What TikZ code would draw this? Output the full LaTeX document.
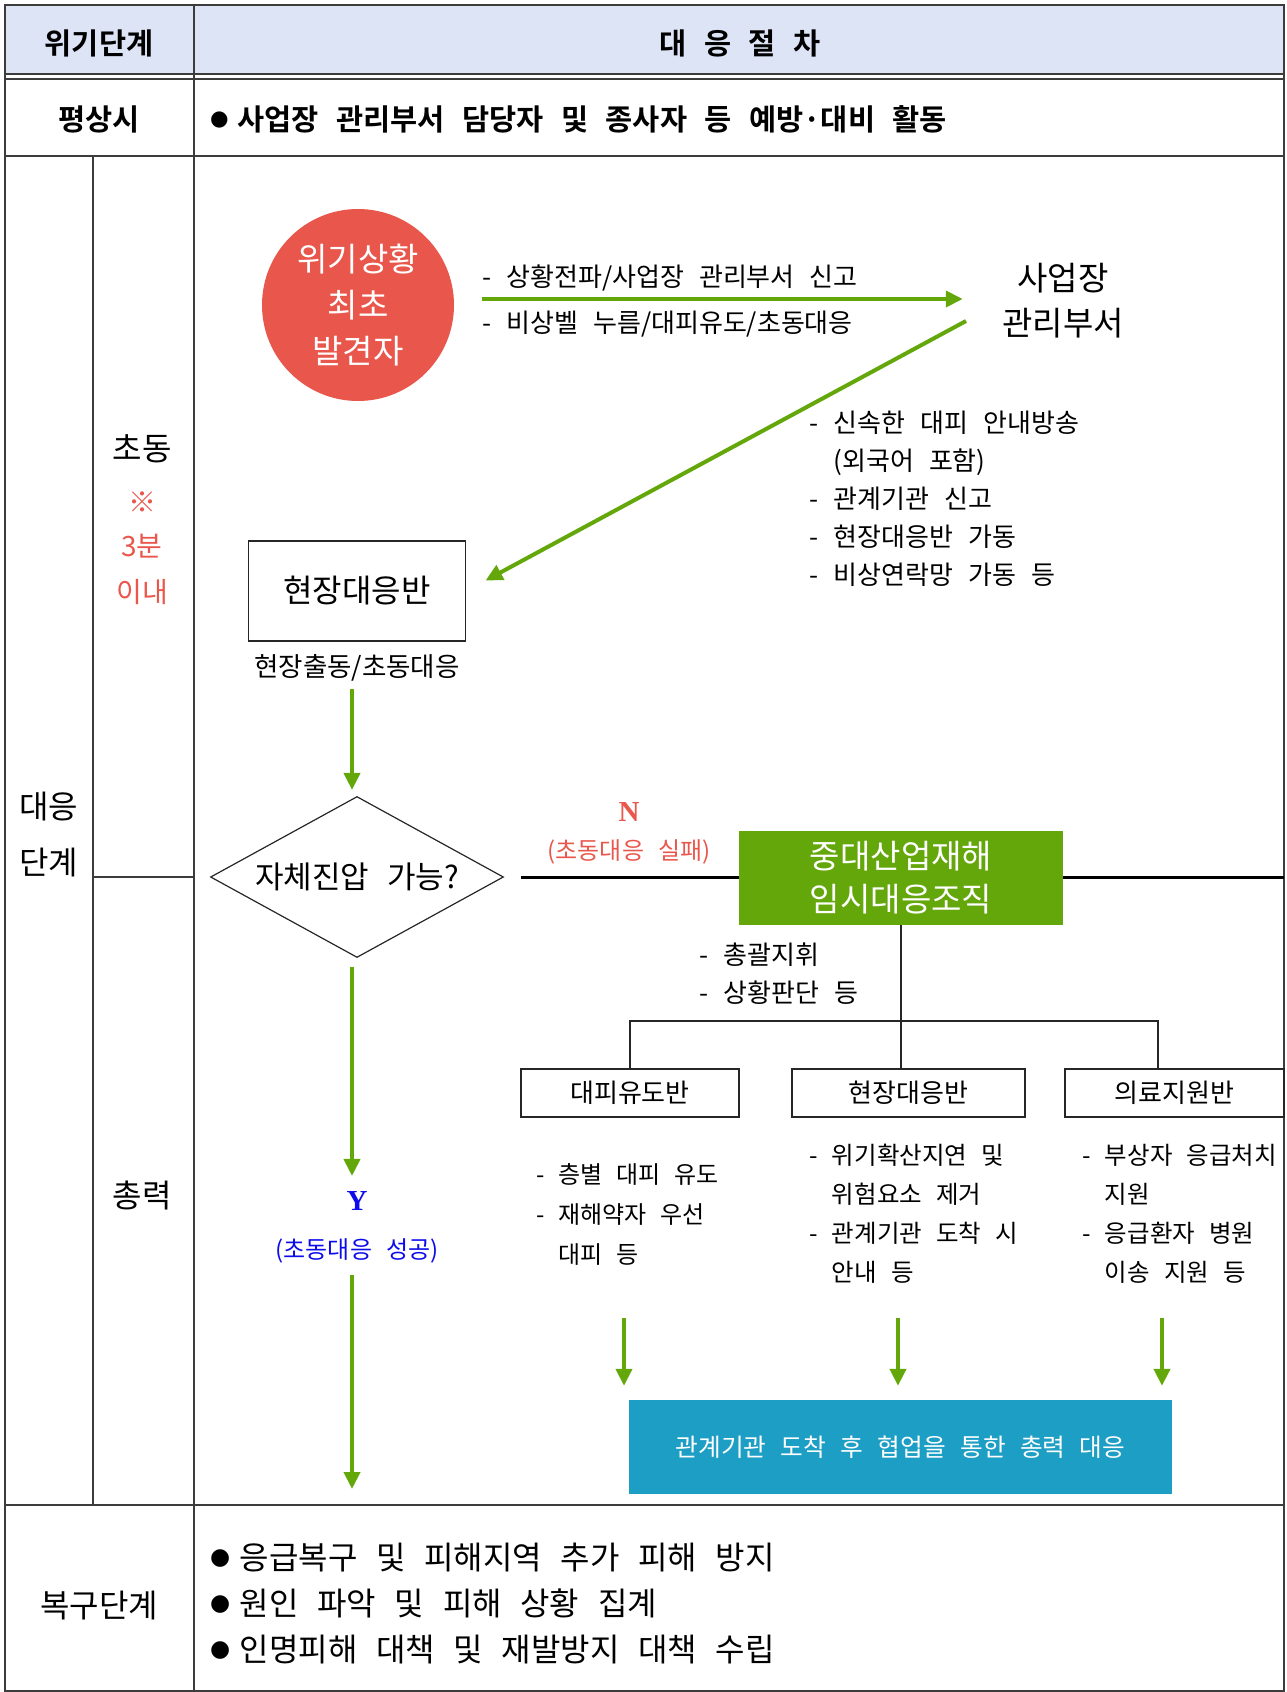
\documentclass[tikz,border=0pt]{standalone}
\usepackage{fontspec}
\setmainfont{Noto Sans CJK KR}[BoldFont={Noto Sans CJK KR Bold},WordSpace=2.6]
\newfontfamily\dotfont{DejaVu Sans}
\newfontfamily\markfont{Liberation Serif}
\usetikzlibrary{shapes.geometric,arrows.meta}

\definecolor{hdrfill}{RGB}{221,228,246}
\definecolor{tabgray}{RGB}{60,60,60}
\definecolor{flowgreen}{RGB}{99,167,10}
\definecolor{alertred}{RGB}{233,87,76}
\definecolor{teamblue}{RGB}{29,158,196}
\definecolor{yesblue}{RGB}{12,12,235}

\newcommand\bul{\raisebox{0.15em}{\dotfont\scalebox{0.72}{●}}\hspace{0.3em}}

\tikzset{
  tabline/.style={draw=tabgray, line width=1.5pt},
  gline/.style={draw=flowgreen, line width=4pt, -{Triangle[length=17pt,width=16pt]}},
  orgline/.style={draw=black!85, line width=1.3pt},
  hdr/.style={font=\bfseries\fontsize{29.5}{34}\selectfont, inner sep=0pt},
  side/.style={font=\fontsize{32}{38}\selectfont, inner sep=0pt},
  redside/.style={font=\fontsize{28}{32}\selectfont, text=alertred, inner sep=0pt},
  note/.style={font=\fontsize{26}{38}\selectfont, inner sep=0pt, align=left},
  smallbox/.style={draw=black!85, line width=1.3pt, font=\fontsize{26}{30}\selectfont, minimum height=48pt},
}

\begin{document}
\begin{tikzpicture}[x=1pt,y=-1pt]
\useasboundingbox (0,0) rectangle (1286,1692);

% table frame
\fill[hdrfill] (5,5) rectangle (1284,74);
\draw[tabline] (194,5) -- (194,1692);
\draw[tabline] (5,74) -- (1284,74);
\draw[tabline] (5,79) -- (1284,79);
\draw[tabline] (5,156) -- (1284,156);
\draw[tabline] (93,156) -- (93,1505);
\draw[tabline] (93,877) -- (194,877);
\draw[tabline] (5,1505) -- (1284,1505);
\draw[draw=tabgray, line width=2pt] (5,5) rectangle (1284,1691);

% header and first row
\node[hdr] (stagehdr) at (99,43) {위기단계};
\node[hdr] (prochdr) at (740,43) {대 응 절 차};
\node[hdr] (normal) at (99,119) {평상시};
\node[hdr, anchor=west] (normaltxt) at (210,119) {\bul 사업장 관리부서 담당자 및 종사자 등 예방·대비 활동};

% left labels
\node[side] (early) at (142,449) {초동};
\node[redside] (earlymark) at (142,502) {※};
\node[redside] (earlymin) at (142,546) {3분};
\node[redside] (earlyin) at (142,592) {이내};
\node[side] (resp1) at (49,807) {대응};
\node[side] (resp2) at (49,863) {단계};
\node[side] (full) at (142,1195) {총력};
\node[side] (recover) at (99,1606) {복구단계};

% first response
\node[circle, fill=alertred, minimum size=192pt, text=white, align=center,
      font=\fontsize{33}{46}\selectfont] (finder) at (358,305) {위기상황\\최초\\발견자};
\node[align=center, font=\fontsize{33}{45}\selectfont] (dept) at (1063,301) {사업장\\관리부서};
\node[note, anchor=west] (report1) at (482,278) {- 상황전파/사업장 관리부서 신고};
\node[note, anchor=west] (report2) at (482,324) {- 비상벨 누름/대피유도/초동대응};
\draw[gline, shorten <=28pt, shorten >=36pt] (finder.east |- 0,299) -- (dept.west |- 0,299);

\node[note, anchor=north west] (deptlist) at (809,411)
  {- 신속한 대피 안내방송\\\hphantom{- }(외국어 포함)\\- 관계기관 신고\\- 현장대응반 가동\\- 비상연락망 가동 등};

\node[draw=black!85, line width=1.3pt, minimum width=217pt, minimum height=100pt,
      font=\fontsize{32}{38}\selectfont] (fieldteam) at (357,591) {현장대응반};
\coordinate (deptout) at (966,321);
\draw[gline, shorten >=22pt] (deptout) -- (fieldteam.east);
\node[font=\fontsize{26.5}{30}\selectfont] (fieldnote) at (357,668) {현장출동/초동대응};

\node[diamond, draw=black!85, line width=1.2pt, aspect=1.82, inner sep=0pt,
      minimum width=293pt, minimum height=161pt, font=\fontsize{31}{36}\selectfont] (decide) at (357,877) {자체진압 가능?};
\draw[gline, shorten <=4pt, shorten >=6pt] (fieldnote.south -| 352,0) -- (decide.north -| 352,0);

% failure branch
\coordinate (rightedge) at (1284,877);
\draw[black, line width=3pt, shorten <=17pt] (decide.east) -- (rightedge);
\node[font=\markfont\bfseries\fontsize{29}{30}\selectfont, text=alertred] (nmark) at (629,812) {N};
\node[font=\fontsize{24}{28}\selectfont, text=alertred] (ntext) at (629,852) {(초동대응 실패)};
\node[fill=flowgreen, minimum width=324pt, minimum height=94pt, text=white, align=center,
      font=\fontsize{33}{43}\selectfont] (temporg) at (901,878) {중대산업재해\\임시대응조직};
\node[note, anchor=north west] (cmdlist) at (699,943) {- 총괄지휘\\- 상황판단 등};

\node[smallbox, minimum width=218pt] (evac) at (630,1093) {대피유도반};
\node[smallbox, minimum width=233pt] (field2) at (908.5,1093) {현장대응반};
\node[smallbox, minimum width=219pt] (medic) at (1174.5,1093) {의료지원반};
\coordinate (branch) at (901,1021);
\coordinate (medtop) at (1158,1069);
\draw[orgline] (temporg.south -| branch) -- (branch |- field2.north);
\draw[orgline] (evac.north) |- (branch) -| (medtop);

\node[note, anchor=north west, font=\fontsize{24}{40}\selectfont] (evaclist) at (536,1163)
  {- 층별 대피 유도\\- 재해약자 우선\\\hphantom{- }대피 등};
\node[note, anchor=north west, font=\fontsize{24.5}{39}\selectfont] (fieldlist) at (809,1144)
  {- 위기확산지연 및\\\hphantom{- }위험요소 제거\\- 관계기관 도착 시\\\hphantom{- }안내 등};
\node[note, anchor=north west, font=\fontsize{24.5}{39}\selectfont] (mediclist) at (1082,1144)
  {- 부상자 응급처치\\\hphantom{- }지원\\- 응급환자 병원\\\hphantom{- }이송 지원 등};

\node[fill=teamblue, minimum width=543pt, minimum height=94pt, text=white,
      font=\fontsize{24.7}{28}\selectfont] (allteam) at (900.5,1447) {관계기관 도착 후 협업을 통한 총력 대응};
\coordinate (evacdown) at (624,1318);
\coordinate (fielddown) at (898,1318);
\coordinate (medicdown) at (1162,1318);
\draw[gline, shorten >=14pt] (evacdown) -- (evacdown |- allteam.north);
\draw[gline, shorten >=14pt] (fielddown) -- (fielddown |- allteam.north);
\draw[gline, shorten >=14pt] (medicdown) -- (medicdown |- allteam.north);

% success branch
\node[font=\markfont\bfseries\fontsize{29}{30}\selectfont, text=yesblue] (ymark) at (357,1201) {Y};
\node[font=\fontsize{24}{28}\selectfont, text=yesblue] (ytext) at (357,1251) {(초동대응 성공)};
\coordinate (yend) at (352,1489);
\draw[gline, shorten <=9pt, shorten >=12pt] (decide.south -| yend) -- (ymark.north -| yend);
\draw[gline, shorten <=8pt] (ytext.south -| yend) -- (yend);

% recovery
\node[note, anchor=north west, font=\fontsize{32}{46}\selectfont] (recoverlist) at (210,1543)
  {\bul 응급복구 및 피해지역 추가 피해 방지\\\bul 원인 파악 및 피해 상황 집계\\\bul 인명피해 대책 및 재발방지 대책 수립};
\end{tikzpicture}
\end{document}
